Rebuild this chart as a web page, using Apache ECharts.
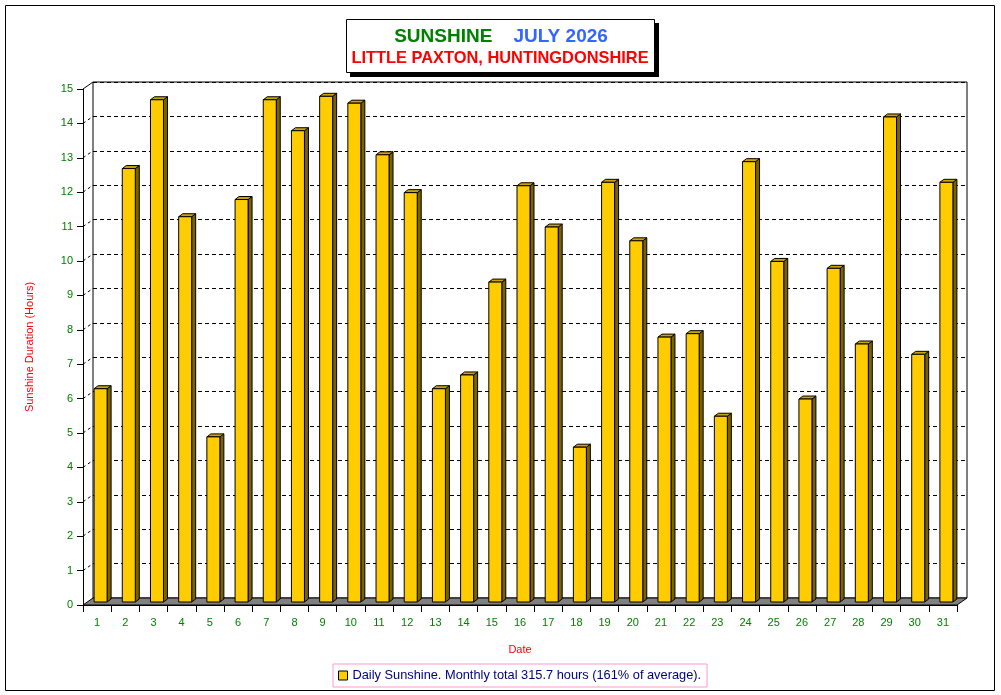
<!DOCTYPE html>
<html lang="en">
<head>
    <meta charset="UTF-8">
    <title>Sunshine July 2026</title>
    <script src="https://cdn.jsdelivr.net/npm/echarts/dist/echarts.min.js"></script>
    <style>
        html, body { margin: 0; padding: 0; background: #ffffff; }
        #chart { width: 1001px; height: 695px; }
    </style>
</head>
<body>
    <div id="chart"></div>
    <script>
        // Daily sunshine, hours
        var dates = ['1', '2', '3', '4', '5', '6', '7', '8', '9', '10',
                     '11', '12', '13', '14', '15', '16', '17', '18', '19', '20',
                     '21', '22', '23', '24', '25', '26', '27', '28', '29', '30', '31'];
        var sunshine = [6.2, 12.6, 14.6, 11.2, 4.8, 11.7, 14.6, 13.7, 14.7, 14.5,
                        13.0, 11.9, 6.2, 6.6, 9.3, 12.1, 10.9, 4.5, 12.2, 10.5,
                        7.7, 7.8, 5.4, 12.8, 9.9, 5.9, 9.7, 7.5, 14.1, 7.2, 12.2];
        var yMin = 0;
        var yMax = 15;
        var legendLabel = 'Daily Sunshine. Monthly total 315.7 hours (161% of average).';

        var FONT = '"Liberation Sans", Arial, sans-serif';
        var DX = 10, DY = 7;       // depth of the 3D box
        var BDX = 4, BDY = 3;      // depth of one bar

        var chart = echarts.init(document.getElementById('chart'));

        // bar drawn as front face + side + top
        function renderBar(params, api) {
            var top = api.coord([api.value(0), api.value(1)]);
            var base = api.coord([api.value(0), 0]);
            var hw = 6.5;
            var cx = top[0] + 3.5;
            var yt = top[1] - BDY;
            var yb = base[1] - BDY;
            return {
                type: 'group',
                children: [
                    {
                        type: 'polygon',
                        shape: { points: [[cx + hw, yt], [cx + hw + BDX, yt - BDY], [cx + hw + BDX, yb - BDY], [cx + hw, yb]] },
                        style: { fill: '#7A6200', stroke: '#000', lineWidth: 1 }
                    },
                    {
                        type: 'polygon',
                        shape: { points: [[cx - hw, yt], [cx - hw + BDX, yt - BDY], [cx + hw + BDX, yt - BDY], [cx + hw, yt]] },
                        style: { fill: '#CCA300', stroke: '#000', lineWidth: 1 }
                    },
                    {
                        type: 'rect',
                        shape: { x: cx - hw, y: yt, width: hw * 2, height: yb - yt },
                        style: { fill: '#FFCC00', stroke: '#000', lineWidth: 1 }
                    }
                ]
            };
        }

        // floor of the box and the diagonal tick links
        function renderFloor(params, api) {
            var cs = params.coordSys;
            var x0 = cs.x, x1 = cs.x + cs.width, yb = cs.y + cs.height;
            var children = [{
                type: 'polygon',
                shape: { points: [[x0, yb], [x1, yb], [x1 + DX, yb - DY], [x0 + DX, yb - DY]] },
                style: { fill: '#808080', stroke: '#000', lineWidth: 1 }
            }];
            for (var v = yMin + 1; v <= yMax; v++) {
                var y = api.coord([0, v])[1];
                children.push({
                    type: 'line',
                    shape: { x1: x0, y1: y, x2: x0 + DX, y2: y - DY },
                    style: { stroke: '#000', lineWidth: 1, lineDash: v === yMax ? null : [3, 3] }
                });
            }
            return { type: 'group', children: children };
        }

        var option = {
            animation: false,
            backgroundColor: '#ffffff',
            graphic: [
                {
                    type: 'rect',
                    shape: { x: 5.5, y: 5.5, width: 989, height: 685 },
                    style: { fill: 'none', stroke: '#000', lineWidth: 1 },
                    z: 0
                },
                {
                    type: 'rect',
                    shape: { x: 350, y: 23, width: 309, height: 54 },
                    style: { fill: '#000' },
                    z: 10
                },
                {
                    type: 'rect',
                    shape: { x: 346.5, y: 19.5, width: 308, height: 53 },
                    style: { fill: '#fff', stroke: '#000', lineWidth: 1 },
                    z: 11
                },
                {
                    type: 'text',
                    x: 501, y: 37,
                    style: {
                        text: '{g|SUNSHINE}{b|    JULY 2026}',
                        align: 'center', verticalAlign: 'middle',
                        rich: {
                            g: { fill: '#008000', font: 'bold 19px ' + FONT },
                            b: { fill: '#3366FF', font: 'bold 19px ' + FONT }
                        }
                    },
                    z: 12
                },
                {
                    type: 'text',
                    x: 500, y: 58,
                    style: {
                        text: 'LITTLE PAXTON, HUNTINGDONSHIRE',
                        align: 'center', verticalAlign: 'middle',
                        fill: '#FF0000', font: 'bold 16.4px ' + FONT
                    },
                    z: 12
                }
            ],
            legend: {
                left: 333,
                bottom: 8,
                data: [{ name: legendLabel, icon: 'rect', itemStyle: { color: '#FFCC00', borderColor: '#000', borderWidth: 1 } }],
                itemWidth: 9,
                itemHeight: 9,
                itemGap: 4,
                padding: [5, 6, 5, 5],
                borderColor: '#FF99CC',
                borderWidth: 1,
                textStyle: { color: '#000080', fontSize: 12.8, fontFamily: FONT },
                selectedMode: false
            },
            grid: [
                { left: 83, top: 89, width: 874, height: 516 },
                { left: 93, top: 82, width: 874, height: 516, show: true, borderColor: '#000', borderWidth: 1, backgroundColor: 'transparent' }
            ],
            xAxis: [
                {
                    type: 'category',
                    gridIndex: 0,
                    data: dates,
                    boundaryGap: true,
                    name: 'Date',
                    nameLocation: 'middle',
                    nameGap: 39,
                    nameTextStyle: { color: '#FF0000', fontSize: 11, fontFamily: FONT },
                    axisLine: { lineStyle: { color: '#000', width: 1 } },
                    axisTick: { show: true, length: 7, alignWithLabel: false, lineStyle: { color: '#000' } },
                    axisLabel: { color: '#008000', fontSize: 11, fontFamily: FONT, margin: 12, interval: 0 },
                    splitLine: { show: false }
                },
                {
                    type: 'category',
                    gridIndex: 1,
                    data: dates,
                    show: false
                }
            ],
            yAxis: [
                {
                    type: 'value',
                    gridIndex: 0,
                    min: yMin,
                    max: yMax,
                    interval: 1,
                    name: 'Sunshine Duration (Hours)',
                    nameLocation: 'middle',
                    nameGap: 48,
                    nameRotate: 90,
                    nameTextStyle: { color: '#FF0000', fontSize: 11, fontFamily: FONT },
                    axisLine: { show: true, lineStyle: { color: '#000', width: 1 } },
                    axisTick: { show: true, length: 6, lineStyle: { color: '#000' } },
                    axisLabel: { color: '#008000', fontSize: 11, fontFamily: FONT, margin: 10 },
                    splitLine: { show: false }
                },
                {
                    type: 'value',
                    gridIndex: 1,
                    min: yMin,
                    max: yMax,
                    interval: 1,
                    axisLine: { show: false },
                    axisTick: { show: false },
                    axisLabel: { show: false },
                    splitLine: { show: true, lineStyle: { color: '#000', type: [4, 3], width: 1 } }
                }
            ],
            series: [
                {
                    name: 'floor',
                    type: 'custom',
                    xAxisIndex: 0,
                    yAxisIndex: 0,
                    renderItem: renderFloor,
                    data: [[0, 0]],
                    silent: true,
                    z: 1
                },
                {
                    name: legendLabel,
                    type: 'custom',
                    xAxisIndex: 0,
                    yAxisIndex: 0,
                    renderItem: renderBar,
                    itemStyle: { color: '#FFCC00', borderColor: '#000' },
                    encode: { x: 0, y: 1 },
                    data: dates.map(function (d, i) { return [i, sunshine[i]]; }),
                    z: 3
                }
            ]
        };

        chart.setOption(option);
    </script>
</body>
</html>
